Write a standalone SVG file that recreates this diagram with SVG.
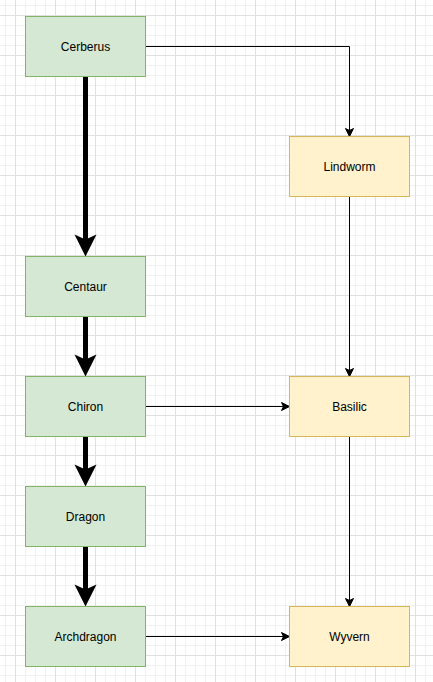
<svg xmlns="http://www.w3.org/2000/svg" width="433" height="682" viewBox="0 0 433 682">
<style>
.g rect{fill:#d5e8d4;stroke:#82b366;stroke-width:1}
.y rect{fill:#fff2cc;stroke:#d6b656;stroke-width:1}
text{font-family:"Liberation Sans",Arial,sans-serif;font-size:12px;fill:#000;text-anchor:middle}
.thin{fill:none;stroke:#000;stroke-width:1;marker-end:url(#a1)}
.thick{fill:none;stroke:#000;stroke-width:5;marker-end:url(#a5)}
</style>
<defs>
<pattern id="minor" x="5" y="5" width="10" height="10" patternUnits="userSpaceOnUse">
<path d="M0.5,0 V10 M0,0.5 H10" stroke="#f0f0f0" stroke-width="1" fill="none"/>
</pattern>
<pattern id="major" x="15" y="15" width="40" height="40" patternUnits="userSpaceOnUse">
<path d="M0.5,0 V40 M0,0.5 H40" stroke="#e0e0e0" stroke-width="1" fill="none"/>
</pattern>
<marker id="a1" markerUnits="userSpaceOnUse" orient="auto" refX="0" refY="0" markerWidth="20" markerHeight="20" overflow="visible">
<path d="M5,0 L-3,-4 L-1,0 L-3,4 Z" fill="#000" stroke="#000" stroke-width="1" stroke-linejoin="miter"/>
</marker>
<marker id="a5" markerUnits="userSpaceOnUse" orient="auto" refX="0" refY="0" markerWidth="40" markerHeight="40" overflow="visible">
<path d="M16,0 L-6,-11 L-1,0 L-6,11 Z" fill="#000"/>
</marker>
</defs>
<rect width="433" height="682" fill="#fff"/>
<rect width="433" height="682" fill="url(#minor)"/>
<rect width="433" height="682" fill="url(#major)"/>
<g id="connectors">
<path class="thin" d="M145.5,46.5 H349.5 V131.5"/>
<path class="thick" d="M85.5,76.5 V240.5"/>
<path class="thick" d="M85.5,316.5 V360.5"/>
<path class="thick" d="M85.5,436.5 V470.5"/>
<path class="thick" d="M85.5,546.5 V590.5"/>
<path class="thin" d="M349.5,196.5 V371.5"/>
<path class="thin" d="M145.5,406.5 H284.5"/>
<path class="thin" d="M349.5,436.5 V601.5"/>
<path class="thin" d="M145.5,636.5 H284.5"/>
</g>
<g id="cerberus" class="g"><rect x="25.5" y="16.5" width="120" height="60"/><text x="85.5" y="50.5">Cerberus</text></g>
<g id="centaur" class="g"><rect x="25.5" y="256.5" width="120" height="60"/><text x="85.5" y="290.5">Centaur</text></g>
<g id="chiron" class="g"><rect x="25.5" y="376.5" width="120" height="60"/><text x="85.5" y="410.5">Chiron</text></g>
<g id="dragon" class="g"><rect x="25.5" y="486.5" width="120" height="60"/><text x="85.5" y="520.5">Dragon</text></g>
<g id="archdragon" class="g"><rect x="25.5" y="606.5" width="120" height="60"/><text x="85.5" y="640.5">Archdragon</text></g>
<g id="lindworm" class="y"><rect x="289.5" y="136.5" width="120" height="60"/><text x="349.5" y="170.5">Lindworm</text></g>
<g id="basilic" class="y"><rect x="289.5" y="376.5" width="120" height="60"/><text x="349.5" y="410.5">Basilic</text></g>
<g id="wyvern" class="y"><rect x="289.5" y="606.5" width="120" height="60"/><text x="349.5" y="640.5">Wyvern</text></g>
</svg>
